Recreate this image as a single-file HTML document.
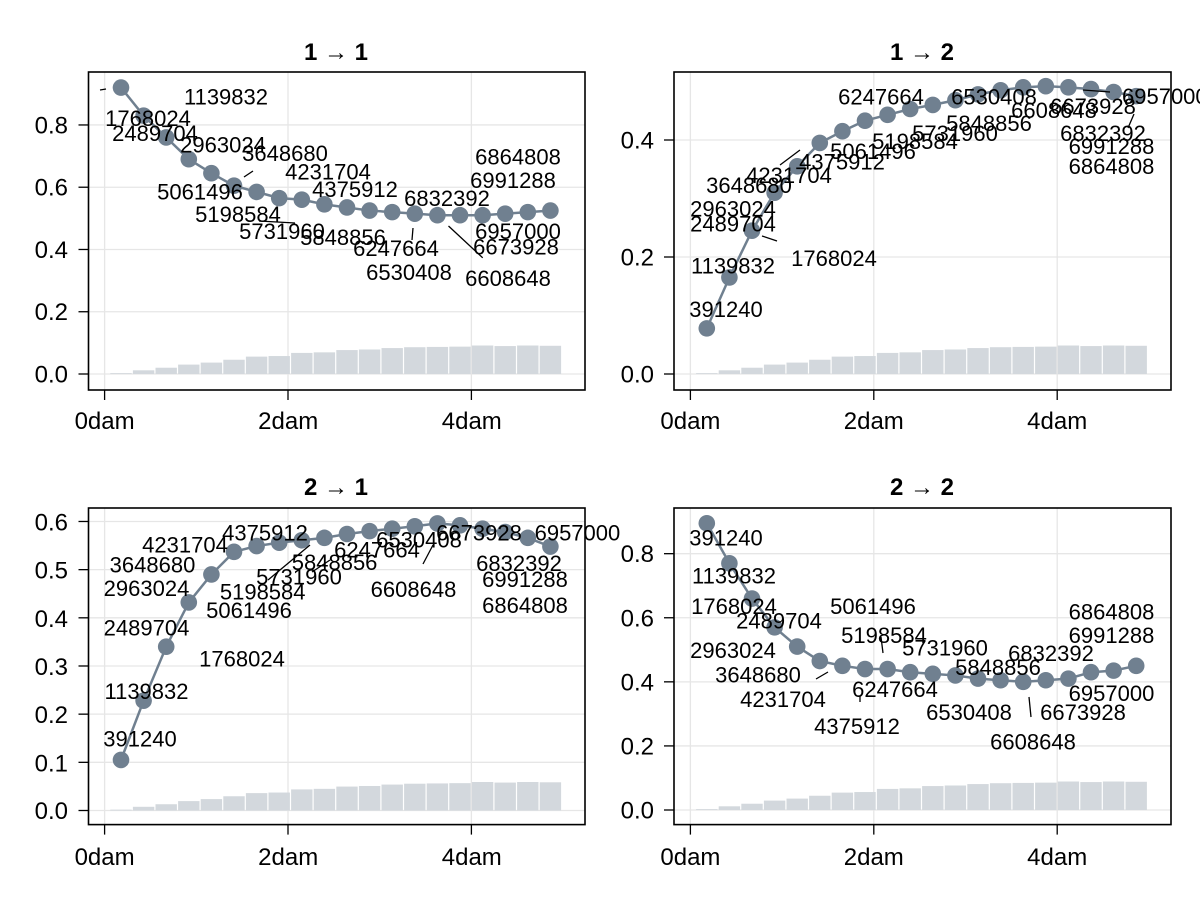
<!DOCTYPE html>
<html><head><meta charset="utf-8"><style>
html,body{margin:0;padding:0;background:#fff;}
svg{display:block;font-family:"Liberation Sans",sans-serif;}
.t{font-size:24px;font-weight:bold;text-anchor:middle;}
.tk{font-size:24px;}
.lb{font-size:22px;text-anchor:middle;}
</style></head><body>
<svg id="s" width="1200" height="900" viewBox="0 0 1200 900" xmlns="http://www.w3.org/2000/svg">
<rect width="1200" height="900" fill="#fff"/>
<g id="shapes"></g>
<text class="t" x="336" y="60">1 → 1</text>
<text class="t" x="922" y="60">1 → 2</text>
<text class="t" x="336" y="495">2 → 1</text>
<text class="t" x="922" y="495">2 → 2</text>
<g class="tk" text-anchor="end">
<text x="68" y="382.5">0.0</text>
<text x="68" y="320.2">0.2</text>
<text x="68" y="258">0.4</text>
<text x="68" y="195.7">0.6</text>
<text x="68" y="133.5">0.8</text>
<text x="654" y="382.5">0.0</text>
<text x="654" y="265.5">0.2</text>
<text x="654" y="148.5">0.4</text>
<text x="68" y="819">0.0</text>
<text x="68" y="771.3">0.1</text>
<text x="68" y="723.1">0.2</text>
<text x="68" y="675">0.3</text>
<text x="68" y="626.8">0.4</text>
<text x="68" y="578.7">0.5</text>
<text x="68" y="530.5">0.6</text>
<text x="654" y="818.5">0.0</text>
<text x="654" y="754.4">0.2</text>
<text x="654" y="690.3">0.4</text>
<text x="654" y="626.3">0.6</text>
<text x="654" y="562.2">0.8</text>
</g>
<g class="tk" text-anchor="middle">
<text x="104.6" y="429">0dam</text>
<text x="288.2" y="429">2dam</text>
<text x="471.8" y="429">4dam</text>
<text x="690.4" y="429">0dam</text>
<text x="873.8" y="429">2dam</text>
<text x="1057.2" y="429">4dam</text>
<text x="104.6" y="865">0dam</text>
<text x="288.2" y="865">2dam</text>
<text x="471.8" y="865">4dam</text>
<text x="690.4" y="865">0dam</text>
<text x="873.8" y="865">2dam</text>
<text x="1057.2" y="865">4dam</text>
</g>
<g class="lb">
<text x="226" y="104.6">1139832</text>
<text x="148" y="125.8">1768024</text>
<text x="155" y="141">2489704</text>
<text x="223" y="152.6">2963024</text>
<text x="285" y="161">3648680</text>
<text x="328" y="179.5">4231704</text>
<text x="200" y="199.7">5061496</text>
<text x="355" y="197">4375912</text>
<text x="447" y="206">6832392</text>
<text x="518" y="164.4">6864808</text>
<text x="513" y="188">6991288</text>
<text x="238" y="222">5198584</text>
<text x="282" y="239">5731960</text>
<text x="343" y="245">5848856</text>
<text x="518" y="239">6957000</text>
<text x="396" y="255.8">6247664</text>
<text x="516" y="254.5">6673928</text>
<text x="409" y="280">6530408</text>
<text x="508" y="286">6608648</text>
</g>
<g class="lb">
<text x="881" y="104.6">6247664</text>
<text x="994" y="104.6">6530408</text>
<text x="1122" y="104" text-anchor="start">6957000</text>
<text x="1093" y="114">6673928</text>
<text x="1054" y="118">6608648</text>
<text x="989" y="130.8">5848856</text>
<text x="955" y="141">5731960</text>
<text x="915" y="149">5198584</text>
<text x="873" y="159">5061496</text>
<text x="842" y="169.5">4375912</text>
<text x="789" y="183">4231704</text>
<text x="749" y="193">3648680</text>
<text x="733" y="216.5">2963024</text>
<text x="733" y="231.6">2489704</text>
<text x="834" y="266">1768024</text>
<text x="733" y="273.6">1139832</text>
<text x="726" y="317">391240</text>
<text x="1103" y="141">6832392</text>
<text x="1111.5" y="154">6991288</text>
<text x="1111.5" y="173.8">6864808</text>
</g>
<g class="lb">
<text x="265" y="540.6">4375912</text>
<text x="185" y="552.4">4231704</text>
<text x="152.5" y="572.6">3648680</text>
<text x="146.5" y="596">2963024</text>
<text x="146.5" y="635.4">2489704</text>
<text x="242" y="666.7">1768024</text>
<text x="146.5" y="699">1139832</text>
<text x="140" y="746.6">391240</text>
<text x="262.7" y="599.4">5198584</text>
<text x="249" y="618">5061496</text>
<text x="299" y="584.3">5731960</text>
<text x="334.6" y="570">5848856</text>
<text x="377" y="557.4">6247664</text>
<text x="419" y="547.4">6530408</text>
<text x="479" y="540.6">6673928</text>
<text x="534.6" y="540.6" text-anchor="start">6957000</text>
<text x="413.5" y="597">6608648</text>
<text x="519" y="571">6832392</text>
<text x="525" y="587">6991288</text>
<text x="525" y="613">6864808</text>
</g>
<g class="lb">
<text x="726" y="545.7">391240</text>
<text x="734" y="583.7">1139832</text>
<text x="734" y="614">1768024</text>
<text x="779" y="628.7">2489704</text>
<text x="873" y="614">5061496</text>
<text x="884" y="643">5198584</text>
<text x="945" y="655.6">5731960</text>
<text x="1051" y="661">6832392</text>
<text x="1111.5" y="619.6">6864808</text>
<text x="1111.5" y="643">6991288</text>
<text x="733" y="658">2963024</text>
<text x="998" y="675">5848856</text>
<text x="758" y="682.5">3648680</text>
<text x="895" y="697">6247664</text>
<text x="1111.5" y="701">6957000</text>
<text x="783" y="707">4231704</text>
<text x="969" y="720">6530408</text>
<text x="1083" y="720">6673928</text>
<text x="857" y="734">4375912</text>
<text x="1033" y="749.6">6608648</text>
</g>
<g stroke="#000" stroke-width="1.3">
<line x1="448.5" y1="226" x2="482.7" y2="257.8"/>
<line x1="259" y1="221" x2="295" y2="223"/>
<line x1="244" y1="177" x2="253" y2="171"/>
<line x1="413" y1="228" x2="412" y2="240"/>
<line x1="100" y1="90" x2="106" y2="89"/>
<line x1="1083" y1="90" x2="1110" y2="92"/>
<line x1="1134" y1="114" x2="1128" y2="128"/>
<line x1="762" y1="236" x2="777" y2="241"/>
<line x1="780" y1="165" x2="800" y2="150"/>
<line x1="268" y1="580" x2="310" y2="545"/>
<line x1="330" y1="560" x2="312" y2="572"/>
<line x1="423" y1="564" x2="433" y2="545"/>
<line x1="1029" y1="697" x2="1031" y2="717"/>
<line x1="816" y1="679" x2="828" y2="672"/>
<line x1="860" y1="696" x2="860" y2="702"/>
<line x1="881" y1="637" x2="883" y2="653"/>
</g>
<script>
(function(){
var NS="http://www.w3.org/2000/svg",g=document.getElementById("shapes");
function el(n,a){var e=document.createElementNS(NS,n);for(var k in a)e.setAttribute(k,a[k]);g.appendChild(e);return e;}
var prof=[0.03,0.13,0.22,0.33,0.40,0.50,0.61,0.63,0.74,0.76,0.84,0.86,0.91,0.94,0.95,0.96,1.0,0.98,1.0,0.99];
var P=[
{L:88.5,R:585,T:72,B:390,x0:104.6,y0:374,s:311.3,yt:[0,0.2,0.4,0.6,0.8],
 v:[0.92,0.83,0.76,0.69,0.645,0.605,0.585,0.565,0.56,0.545,0.535,0.525,0.52,0.515,0.51,0.51,0.51,0.515,0.52,0.525]},
{L:674,R:1171,T:72,B:390,x0:690.4,y0:374,s:585,yt:[0,0.2,0.4],
 v:[0.078,0.165,0.245,0.31,0.355,0.395,0.415,0.433,0.443,0.453,0.46,0.468,0.478,0.485,0.49,0.492,0.49,0.487,0.482,0.475]},
{L:88.5,R:585,T:508,B:824.6,x0:104.6,y0:810.5,s:481.7,yt:[0,0.1,0.2,0.3,0.4,0.5,0.6],
 v:[0.105,0.228,0.34,0.432,0.49,0.537,0.549,0.556,0.561,0.566,0.574,0.58,0.585,0.59,0.596,0.592,0.585,0.578,0.566,0.548]},
{L:674,R:1171,T:508,B:824.6,x0:690.4,y0:810,s:320.4,yt:[0,0.2,0.4,0.6,0.8],
 v:[0.895,0.77,0.66,0.57,0.51,0.465,0.45,0.44,0.44,0.43,0.425,0.42,0.41,0.405,0.40,0.405,0.41,0.43,0.435,0.45]}];
P.forEach(function(p){
 [0,2,4].forEach(function(d){var x=p.x0+91.7*d;
  el("line",{x1:x,x2:x,y1:p.T,y2:p.B,stroke:"#e6e6e6","stroke-width":1.3});
  el("line",{x1:x,x2:x,y1:p.B,y2:p.B+10,stroke:"#000","stroke-width":1.3});});
 p.yt.forEach(function(t){var y=p.y0-t*p.s;
  el("line",{x1:p.L,x2:p.R,y1:y,y2:y,stroke:"#e6e6e6","stroke-width":1.3});
  el("line",{x1:p.L-10,x2:p.L,y1:y,y2:y,stroke:"#000","stroke-width":1.3});});
 for(var i=0;i<20;i++){var cx=p.x0+16.4+22.6*i,h=28.5*prof[i];
  el("rect",{x:cx-10.7,y:p.y0-h,width:21.4,height:h,fill:"#d3d8dd"});}
 var pts=[];for(var i=0;i<20;i++)pts.push((p.x0+16.4+22.6*i)+","+(p.y0-p.v[i]*p.s));
 el("polyline",{points:pts.join(" "),fill:"none",stroke:"#708090","stroke-width":2.5});
 for(var i=0;i<20;i++)el("circle",{cx:p.x0+16.4+22.6*i,cy:p.y0-p.v[i]*p.s,r:8.3,fill:"#708090"});
 el("rect",{x:p.L,y:p.T,width:p.R-p.L,height:p.B-p.T,fill:"none",stroke:"#000","stroke-width":1.6});
});
})();
</script>
</svg>
</body></html>
